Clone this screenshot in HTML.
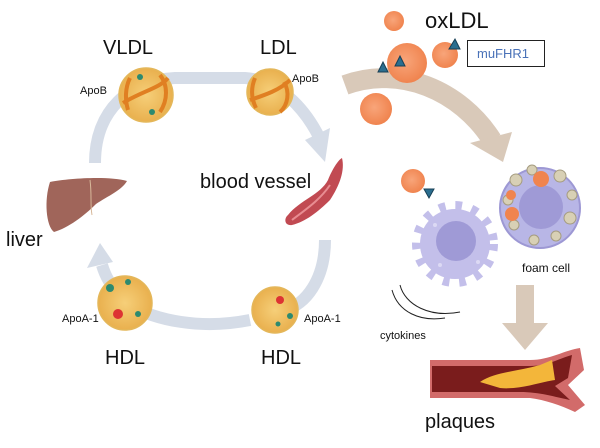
<!DOCTYPE html>
<html><head><style>
html,body{margin:0;padding:0;background:#fff;}
svg{display:block;font-family:"Liberation Sans",sans-serif;}
</style></head><body>
<svg width="600" height="448" viewBox="0 0 600 448">
<defs>
<radialGradient id="lp" cx="50%" cy="50%" r="50%"><stop offset="0" stop-color="#f6cf79"/><stop offset="1" stop-color="#e9b04e"/></radialGradient>
<radialGradient id="ox" cx="45%" cy="45%" r="55%"><stop offset="0" stop-color="#f8a57a"/><stop offset="1" stop-color="#f0844f"/></radialGradient>
</defs>
<g fill="none" stroke="#d5dce7" stroke-width="12">
<path d="M95 163 C95 110 130 80 175 78 L245 78 C280 80 305 110 318 135"/>
<path d="M325 240 C325 280 305 305 285 310"/>
<path d="M250 320 C200 330 155 320 130 305"/>
<path d="M118 292 C110 285 105 275 102 265"/>
</g>
<polygon points="305,140 330,128 325,162" fill="#d5dce7"/>
<polygon points="87,268 113,262 100,243" fill="#d5dce7"/>
<g stroke="#e4b75a" stroke-width="1.5">
<circle cx="146" cy="95" r="27" fill="url(#lp)"/>
<circle cx="270" cy="92" r="23" fill="url(#lp)"/>
<circle cx="125" cy="303" r="27" fill="url(#lp)"/>
<circle cx="275" cy="310" r="23" fill="url(#lp)"/>
</g>
<g fill="none" stroke="#e07f22" stroke-width="4">
<path d="M123 103 C140 92 160 88 168 78"/><path d="M130 78 C125 88 125 100 128 110"/><path d="M160 75 C168 85 168 100 160 112"/>
<path d="M250 100 C265 95 280 90 290 80"/><path d="M255 78 C250 90 252 100 256 108"/><path d="M284 82 C290 92 288 105 280 112"/>
</g>
<g fill="#2d8a6f"><circle cx="140" cy="77" r="3"/><circle cx="152" cy="112" r="3"/><circle cx="110" cy="288" r="4"/><circle cx="128" cy="282" r="3"/><circle cx="138" cy="314" r="3"/><circle cx="290" cy="316" r="3"/><circle cx="278" cy="324" r="2.5"/></g>
<g fill="#d33"><circle cx="118" cy="314" r="5"/><circle cx="280" cy="300" r="4"/></g>
<path d="M50 182 C70 178 110 176 127 181 C122 190 108 196 96 204 C84 216 68 228 54 232 C46 226 44 200 50 182Z" fill="#a0655a"/>
<path d="M90 180 C92 195 90 205 92 215" stroke="#d7b89a" stroke-width="1" fill="none"/>
<path d="M288 215 C300 200 320 195 328 180 C332 170 338 160 342 158 C345 170 340 185 330 200 C318 212 305 222 292 225 C284 226 284 218 288 215Z" fill="#c14a52"/>
<path d="M292 220 C305 210 320 200 330 185" stroke="#e88d92" stroke-width="2" fill="none"/>
<g fill="#111" font-size="20">
<text x="103" y="54">VLDL</text><text x="260" y="54">LDL</text>
<text x="200" y="188">blood vessel</text><text x="6" y="246">liver</text>
<text x="105" y="364">HDL</text><text x="261" y="364">HDL</text>
</g>
<g fill="#111" font-size="11">
<text x="80" y="94">ApoB</text><text x="292" y="82">ApoB</text>
<text x="62" y="322">ApoA-1</text><text x="304" y="322">ApoA-1</text>
</g>
<path d="M345 85 C400 65 460 90 492 140" fill="none" stroke="#d9c9b9" stroke-width="20"/>
<polygon points="470,143 512,132 503,162" fill="#d9c9b9"/>
<rect x="516" y="285" width="18" height="40" fill="#d9c9b9"/>
<polygon points="502,323 548,323 525,350" fill="#d9c9b9"/>
<g fill="url(#ox)"><circle cx="394" cy="21" r="10"/><circle cx="407" cy="63" r="20"/><circle cx="445" cy="55" r="13"/><circle cx="376" cy="109" r="16"/><circle cx="413" cy="181" r="12"/></g>
<g fill="#2b6e8f" stroke="#173f55" stroke-width="1"><polygon points="378,72 388,72 383,62"/><polygon points="395,66 405,66 400,56"/><polygon points="449,49 460,49 455,39"/><polygon points="424,189 434,189 429,198"/></g>
<text x="425" y="28" font-size="22" fill="#111">oxLDL</text>
<rect x="467.5" y="40.5" width="77" height="26" fill="#fff" stroke="#222"/>
<text x="477" y="58" font-size="13" fill="#4a72b8">muFHR1</text>
<circle cx="455" cy="244" r="35" fill="none" stroke="#c3bfea" stroke-width="16" stroke-dasharray="6 9"/>
<circle cx="455" cy="244" r="35" fill="#c3bfea"/>
<circle cx="456" cy="241" r="20" fill="#9f9ad6"/>
<circle cx="435" cy="225" r="2" fill="#dcd9f4"/><circle cx="478" cy="262" r="2" fill="#dcd9f4"/><circle cx="440" cy="265" r="2" fill="#dcd9f4"/>
<path d="M400 285 C405 305 430 318 460 312" fill="none" stroke="#222"/>
<path d="M392 290 C398 312 420 322 445 318" fill="none" stroke="#222"/>
<text x="380" y="339" font-size="11" fill="#111">cytokines</text>
<circle cx="540" cy="208" r="40" fill="#b8b6e6" stroke="#9d98d4" stroke-width="2"/>
<circle cx="541" cy="207" r="22" fill="#9f9ad6"/>
<g fill="#d8d0b5" stroke="#a59c80"><circle cx="516" cy="180" r="6"/><circle cx="532" cy="170" r="5"/><circle cx="560" cy="176" r="6"/><circle cx="572" cy="195" r="5"/><circle cx="570" cy="218" r="6"/><circle cx="556" cy="236" r="5"/><circle cx="534" cy="240" r="5"/><circle cx="514" cy="225" r="5"/><circle cx="508" cy="200" r="5"/></g>
<g fill="#f0844f"><circle cx="541" cy="179" r="8"/><circle cx="511" cy="195" r="5"/><circle cx="512" cy="214" r="7"/></g>
<text x="522" y="272" font-size="12" fill="#111">foam cell</text>
<path d="M430 360 L530 360 C550 360 565 350 580 348 L584 370 L568 385 L585 405 L575 412 C560 405 545 400 530 398 L430 398 Z" fill="#d26b6a"/>
<path d="M432 366 L530 366 C548 366 560 358 572 355 L568 378 L555 386 L570 400 C555 397 540 392 520 392 L432 392 Z" fill="#7a1c1c"/>
<path d="M480 382 C495 372 515 372 540 365 L552 360 L555 380 C540 382 520 390 500 388Z" fill="#f3b63a"/>
<text x="425" y="428" font-size="20" fill="#111">plaques</text>
</svg>
</body></html>
